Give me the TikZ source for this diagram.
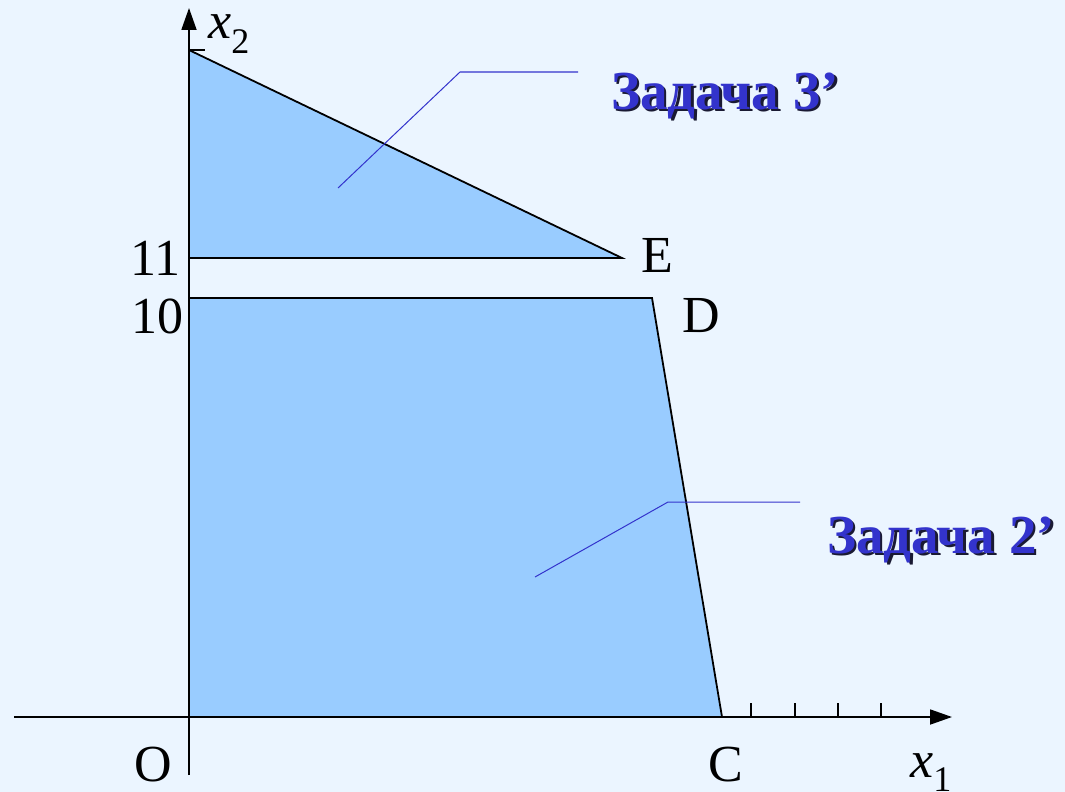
\documentclass[tikz,border=0pt]{standalone}
\usepackage{fontspec}
\setmainfont{Liberation Serif}
\usetikzlibrary{arrows.meta}
\definecolor{bg}{HTML}{EBF5FF}
\definecolor{region}{HTML}{99CCFF}
\definecolor{titleblue}{HTML}{3333CC}
\definecolor{shadowc}{HTML}{1A1A33}
\newcommand{\shadowtext}[1]{\makebox[0pt][l]{\hspace{2.5pt}\raisebox{-2.5pt}{\textcolor{shadowc}{#1}}}#1}
\tikzset{
  axis/.style={line width=1.8pt, -{Triangle[length=22pt,width=15pt]}},
  edge/.style={line width=1.8pt, black},
  tickmark/.style={line width=1.6pt, black},
  leader/.style={line width=1pt, titleblue},
  lbl/.style={font=\fontsize{52}{56}\selectfont, inner sep=0pt},
  title/.style={font=\fontsize{55}{60}\selectfont\bfseries, text=titleblue, inner sep=0pt},
}
\begin{document}
\begin{tikzpicture}[x=1pt,y=-1pt]
\fill[bg] (0,0) rectangle (1065,792);
\useasboundingbox (0,0) rectangle (1065,792);
% points
\coordinate (O) at (189,717);
\coordinate (T) at (189,50);
\coordinate (E) at (622,258);
\coordinate (L11) at (189,258);
\coordinate (L10) at (189,298);
\coordinate (D) at (652,298);
\coordinate (C) at (722,717);
% regions
\fill[region] (T) -- (E) -- (L11) -- cycle;
\fill[region] (L10) -- (D) -- (C) -- (O) -- cycle;
\draw[edge] (T) -- (E) -- (L11);
\draw[edge] (L10) -- (D) -- (C);
\draw[edge] (T) -- ++(16,0);
% axes
\coordinate (xs) at (14,717);
\coordinate (xe) at (952,717);
\coordinate (ys) at (189,775);
\coordinate (ye) at (189,8);
\draw[axis] (xs) -- (xe);
\draw[axis] (ys) -- (ye);
% ticks
\foreach \t in {751,795,838,881} \draw[tickmark] (\t,717) -- (\t,703);
% labels
\node[lbl, anchor=east] (n11) at (181,258) {11};
\node[lbl, anchor=east] (n10) at (184,316) {10};
\node[lbl] (lE) at (657,255) {E};
\node[lbl] (lD) at (701,316) {D};
\node[lbl] (lO) at (153,765) {O};
\node[lbl] (lC) at (726,765) {C};
\node[lbl, anchor=base west] (lx1) at (910,777) {\itshape x\raisebox{-0.28em}{\fontsize{36}{36}\selectfont\upshape 1}};
\node[lbl, anchor=base west] (lx2) at (208,39) {\itshape x\raisebox{-0.28em}{\fontsize{36}{36}\selectfont\upshape 2}};
% leaders
\coordinate (a1) at (338,188);
\coordinate (a2) at (460,72);
\coordinate (a3) at (578,72);
\coordinate (b1) at (535,577);
\coordinate (b2) at (668,502);
\coordinate (b3) at (800,502);
\draw[leader] (a1) -- (a2) -- (a3);
\draw[leader] (b1) -- (b2) -- (b3);
% titles
\node[title] (t3) at (725,97) {\shadowtext{Задача 3’}};
\node[title] (t2) at (941,541) {\shadowtext{Задача 2’}};
\end{tikzpicture}
\end{document}
